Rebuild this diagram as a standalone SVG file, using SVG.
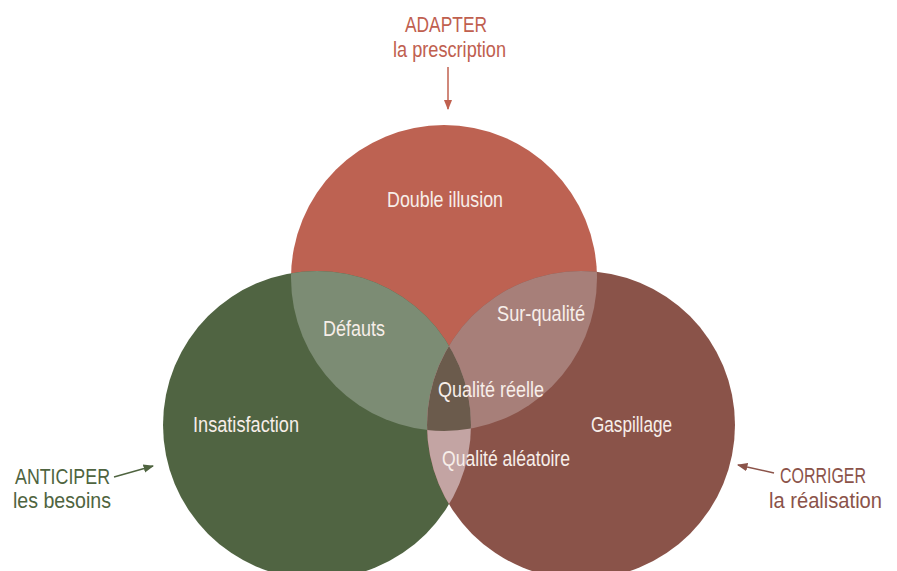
<svg xmlns="http://www.w3.org/2000/svg" width="897" height="571" viewBox="0 0 897 571">
  <style>
    text { font-family: "Liberation Sans Narrow", "Liberation Sans", Arial, sans-serif; font-size: 22px; }
    .in { fill: #f7eee9; }
    .red { fill: #c0604f; }
    .green { fill: #4f6440; }
    .brown { fill: #8b5349; }
  </style>
  <defs>
    <clipPath id="cR"><circle cx="444" cy="278" r="153"/></clipPath>
    <clipPath id="cG"><circle cx="317" cy="425" r="154"/></clipPath>
    <clipPath id="cB"><circle cx="581" cy="425" r="154"/></clipPath>
    <marker id="ahR" viewBox="0 0 10 10" refX="9" refY="5" markerWidth="7" markerHeight="7" orient="auto"><path d="M0,1 L10,5 L0,9 Z" fill="#c0604f"/></marker>
    <marker id="ahG" viewBox="0 0 10 10" refX="9" refY="5" markerWidth="7" markerHeight="7" orient="auto"><path d="M0,1 L10,5 L0,9 Z" fill="#4f6440"/></marker>
    <marker id="ahB" viewBox="0 0 10 10" refX="9" refY="5" markerWidth="7" markerHeight="7" orient="auto"><path d="M0,1 L10,5 L0,9 Z" fill="#8b5349"/></marker>
  </defs>
  <rect width="897" height="571" fill="#ffffff"/>

  <g id="prescription">
    <circle cx="444" cy="278" r="153" fill="#bd6252"/>
    <text class="in" x="387" y="207" textLength="116" lengthAdjust="spacingAndGlyphs">Double illusion</text>
  </g>
  <g id="besoins">
    <circle cx="317" cy="425" r="154" fill="#506442"/>
    <text class="in" x="193" y="432" textLength="106" lengthAdjust="spacingAndGlyphs">Insatisfaction</text>
  </g>
  <g id="realisation">
    <circle cx="581" cy="425" r="154" fill="#8a5349"/>
    <text class="in" x="591" y="432" textLength="81" lengthAdjust="spacingAndGlyphs">Gaspillage</text>
  </g>

  <g id="defauts">
    <circle cx="444" cy="278" r="153" fill="#7c8c74" clip-path="url(#cG)"/>
    <text class="in" x="323" y="336" textLength="62" lengthAdjust="spacingAndGlyphs">Défauts</text>
  </g>
  <g id="sur-qualite">
    <circle cx="444" cy="278" r="153" fill="#a77f79" clip-path="url(#cB)"/>
    <text class="in" x="497" y="321" textLength="88" lengthAdjust="spacingAndGlyphs">Sur-qualité</text>
  </g>
  <g id="qualite-aleatoire">
    <circle cx="317" cy="425" r="154" fill="#c3a4a3" clip-path="url(#cB)"/>
    <text class="in" x="442" y="466" textLength="128" lengthAdjust="spacingAndGlyphs">Qualité aléatoire</text>
  </g>
  <g id="qualite-reelle">
    <g clip-path="url(#cG)">
      <circle cx="444" cy="278" r="153" fill="#6b5b4c" clip-path="url(#cB)"/>
    </g>
    <text class="in" x="438" y="397" textLength="106" lengthAdjust="spacingAndGlyphs">Qualité réelle</text>
  </g>

  <g id="label-adapter">
    <text class="red" x="405" y="32" textLength="82" lengthAdjust="spacingAndGlyphs">ADAPTER</text>
    <text class="red" x="393" y="57" textLength="113" lengthAdjust="spacingAndGlyphs">la prescription</text>
  </g>
  <g id="label-anticiper">
    <text class="green" x="15" y="484" textLength="95" lengthAdjust="spacingAndGlyphs">ANTICIPER</text>
    <text class="green" x="13" y="508" textLength="98" lengthAdjust="spacingAndGlyphs">les besoins</text>
  </g>
  <g id="label-corriger">
    <text class="brown" x="780" y="483" textLength="86" lengthAdjust="spacingAndGlyphs">CORRIGER</text>
    <text class="brown" x="769" y="508" textLength="113" lengthAdjust="spacingAndGlyphs">la réalisation</text>
  </g>

  <g id="connectors" fill="none" stroke-width="1.5">
    <line x1="448" y1="67" x2="448" y2="109" stroke="#c0604f" marker-end="url(#ahR)"/>
    <line x1="114" y1="477" x2="153" y2="466" stroke="#4f6440" marker-end="url(#ahG)"/>
    <line x1="774" y1="473" x2="738" y2="465" stroke="#8b5349" marker-end="url(#ahB)"/>
  </g>
</svg>
